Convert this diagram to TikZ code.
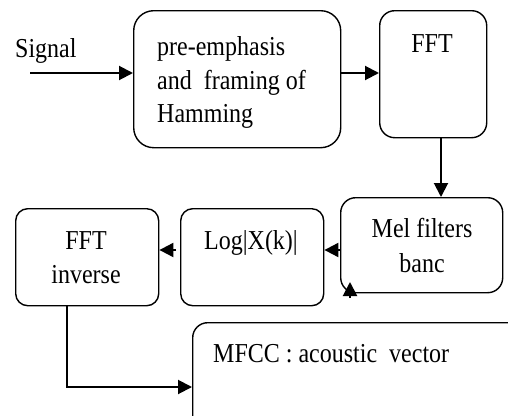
\documentclass[tikz,border=0pt]{standalone}
\usepackage{fontspec}
\setmainfont{Liberation Serif}
\usetikzlibrary{arrows.meta,calc}
\begin{document}
\begin{tikzpicture}[x=1pt,y=-1pt,
  blk/.style={draw,line width=1.4pt,inner sep=0pt,anchor=north west},
  lbl/.style={font=\fontsize{24}{24}\selectfont,anchor=base,inner sep=0pt,yscale=1.14,transform shape},
  flow/.style={line width=2pt,-{Triangle[length=14pt,width=14pt]}}]
\useasboundingbox (0,0) rectangle (508,415);
\clip (0,0) rectangle (508,415);
% processing blocks
\node[blk,rounded corners=20pt,minimum width=207pt,minimum height=137pt] (pre) at (133,10) {};
\node[blk,rounded corners=15pt,minimum width=107pt,minimum height=127pt] (fft) at (379,10) {};
\node[blk,rounded corners=15pt,minimum width=162pt,minimum height=95pt] (mel) at (340,197) {};
\node[blk,rounded corners=12pt,minimum width=143pt,minimum height=97pt] (log) at (180,208) {};
\node[blk,rounded corners=12pt,minimum width=143pt,minimum height=97pt] (inv) at (15,208) {};
\node[blk,rounded corners=15pt,minimum width=340pt,minimum height=130pt] (mfcc) at (192,322) {};
% labels
\node[lbl,anchor=base west] (tsig) at (15,57) {Signal};
\node[lbl,anchor=base west] (tpre1) at (157,55) {pre-emphasis};
\node[lbl,anchor=base west] (tpre2) at (157,89) {and\ \ framing of};
\node[lbl,anchor=base west] (tpre3) at (157,122) {Hamming};
\node[lbl] (tfft) at (432,52) {FFT};
\node[lbl] (tmel1) at (422,237) {Mel filters};
\node[lbl] (tmel2) at (422,272) {banc};
\node[lbl] (tlog) at (251,249) {Log|X(k)|};
\node[lbl] (tinv1) at (86,249) {FFT};
\node[lbl] (tinv2) at (86,283) {inverse};
\node[lbl,anchor=base west] (tmfcc) at (213,362) {MFCC : acoustic\ \ vector};
% connectors
\coordinate (sigin) at (30,73);
\coordinate (stub) at (350,298);
\coordinate (turn) at (67,387);
\draw[flow] (sigin) -- (sigin -| pre.west);
\draw[flow] (pre.east |- sigin) -- (fft.west |- sigin);
\draw[flow] (441,137) -- (441,197);
\draw[flow] (mel.west |- 0,250) -- (log.east |- 0,250);
\draw[flow] (176,250) -- (inv.east |- 0,250);
\draw[flow] (stub) -- ++(0,-16);
\draw[flow] (inv.south -| turn) -- (turn) -- (turn -| mfcc.west);
\end{tikzpicture}
\end{document}
